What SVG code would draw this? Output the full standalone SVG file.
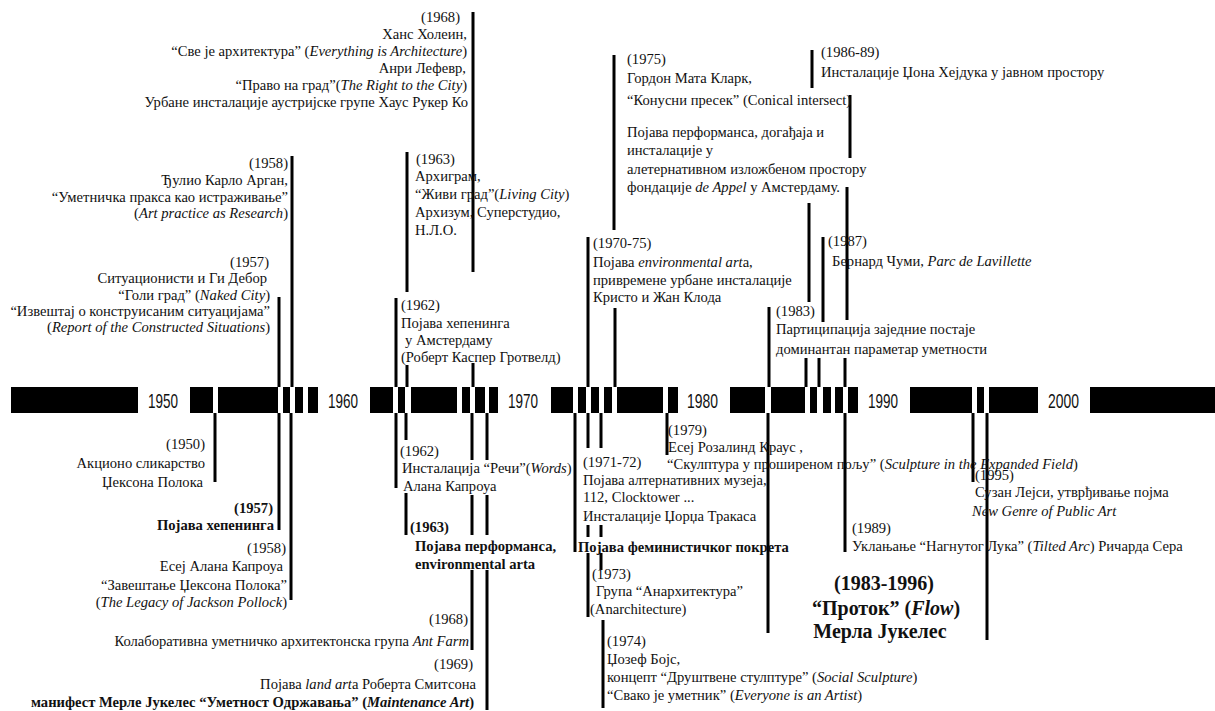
<svg xmlns="http://www.w3.org/2000/svg" width="1215" height="711" viewBox="0 0 1215 711">
<style>
.t{font-family:"Liberation Serif","Times New Roman",serif;font-size:14.6px;fill:#111}
.r{text-anchor:end}
.b{font-weight:bold}
.i{font-style:italic}
.big{font-size:20px;font-weight:bold;text-anchor:middle}
.yr{font-family:"Liberation Sans",Arial,sans-serif;font-size:21px;fill:#111}
.ln{stroke:#000;stroke-width:3;fill:none}
.blk{fill:#000}
</style>
<rect width="1215" height="711" fill="#fff"/>
<g id="timeline">
<rect class="blk" x="11" y="387" width="127" height="26"/>
<rect class="blk" x="190" y="387" width="23" height="26"/>
<rect class="blk" x="218" y="387" width="60" height="26"/>
<rect class="blk" x="283" y="387" width="7" height="26"/>
<rect class="blk" x="295" y="387" width="8" height="26"/>
<rect class="blk" x="308" y="387" width="10" height="26"/>
<rect class="blk" x="370" y="387" width="23" height="26"/>
<rect class="blk" x="398" y="387" width="7" height="26"/>
<rect class="blk" x="411" y="387" width="46" height="26"/>
<rect class="blk" x="462" y="387" width="8" height="26"/>
<rect class="blk" x="475" y="387" width="10" height="26"/>
<rect class="blk" x="489" y="387" width="9" height="26"/>
<rect class="blk" x="551" y="387" width="22" height="26"/>
<rect class="blk" x="578" y="387" width="8" height="26"/>
<rect class="blk" x="591" y="387" width="8" height="26"/>
<rect class="blk" x="604" y="387" width="8" height="26"/>
<rect class="blk" x="617" y="387" width="46" height="26"/>
<rect class="blk" x="668" y="387" width="10" height="26"/>
<rect class="blk" x="730" y="387" width="35" height="26"/>
<rect class="blk" x="771" y="387" width="34" height="26"/>
<rect class="blk" x="810" y="387" width="7" height="26"/>
<rect class="blk" x="823" y="387" width="8" height="26"/>
<rect class="blk" x="835" y="387" width="8" height="26"/>
<rect class="blk" x="848" y="387" width="10" height="26"/>
<rect class="blk" x="910" y="387" width="62" height="26"/>
<rect class="blk" x="977" y="387" width="7" height="26"/>
<rect class="blk" x="989" y="387" width="49" height="26"/>
<rect class="blk" x="1090" y="387" width="125" height="26"/>
<text class="yr" x="148" y="408" textLength="30" lengthAdjust="spacingAndGlyphs">1950</text>
<text class="yr" x="328" y="408" textLength="30" lengthAdjust="spacingAndGlyphs">1960</text>
<text class="yr" x="508" y="408" textLength="30" lengthAdjust="spacingAndGlyphs">1970</text>
<text class="yr" x="687" y="408" textLength="31" lengthAdjust="spacingAndGlyphs">1980</text>
<text class="yr" x="868" y="408" textLength="30" lengthAdjust="spacingAndGlyphs">1990</text>
<text class="yr" x="1048" y="408" textLength="31" lengthAdjust="spacingAndGlyphs">2000</text>
</g>
<g id="connectors">
<path class="ln" d="M292 156V387 M279 297V387 M407 152V292 M407 365V387 M396 298V387 M473 12V272 M473 363V387 M588 237V387 M614 55V230 M615 308V387 M769 307V387 M806 358V387 M809 203V302 M812 50V88 M819 358V387 M823 237V322 M845 358V387 M847 187V320 M850 95V158"/>
<path class="ln" d="M215 413V482 M279 413V530 M291 413V600 M396 413V488 M406 413V440 M406 493V535 M472 413V460 M472 495V535 M472 570V650 M487 413V460 M487 495V535 M487 570V710 M575 413V552 M588 413V448 M588 525V537 M588 553V617 M601 413V448 M601 525V537 M601 553V570 M603 620V708 M667 413V455 M768 413V633 M845 413V552 M973 413V482 M987 413V640"/>
</g>
<g id="n1968top">
<text class="t r" x="460" y="22">(1968)</text>
<text class="t r" x="467" y="39">Ханс Холеин,</text>
<text class="t r" x="467" y="56">“Све је архитектура” (<tspan class="i">Everything is Architecture</tspan>)</text>
<text class="t r" x="466" y="73">Анри Лефевр,</text>
<text class="t r" x="467" y="90">“Право на град”(<tspan class="i">The Right to the City</tspan>)</text>
<text class="t r" x="468" y="107">Урбане инсталације аустријске групе Хаус Рукер Ко</text>
</g>
<g id="n1958top">
<text class="t r" x="288" y="168">(1958)</text>
<text class="t r" x="288" y="185">Ђулио Карло Арган,</text>
<text class="t r" x="288" y="202">“Уметничка пракса као истраживање”</text>
<text class="t r" x="288" y="218">(<tspan class="i">Art practice as Research</tspan>)</text>
</g>
<g id="n1957top">
<text class="t r" x="269" y="267">(1957)</text>
<text class="t r" x="267" y="283">Ситуационисти и Ги Дебор</text>
<text class="t r" x="270" y="300">“Голи град” (<tspan class="i">Naked City</tspan>)</text>
<text class="t r" x="270" y="316">“Извештај о конструисаним ситуацијама”</text>
<text class="t r" x="270" y="332">(<tspan class="i">Report of the Constructed Situations</tspan>)</text>
</g>
<g id="n1963top">
<text class="t" x="416" y="164">(1963)</text>
<text class="t" x="415" y="181">Архиграм,</text>
<text class="t" x="415" y="199">“Живи град”(<tspan class="i">Living City</tspan>)</text>
<text class="t" x="415" y="217">Архизум, Суперстудио,</text>
<text class="t" x="415" y="235">Н.Л.О.</text>
</g>
<g id="n1962top">
<text class="t" x="401" y="310">(1962)</text>
<text class="t" x="401" y="328">Појава хепенинга</text>
<text class="t" x="405" y="345">у Амстердаму</text>
<text class="t" x="401" y="362">(Роберт Каспер Гротвелд)</text>
</g>
<g id="n1975">
<text class="t" x="627" y="64">(1975)</text>
<text class="t" x="627" y="83">Гордон Мата Кларк,</text>
<text class="t" x="627" y="105">“Конусни пресек” (Conical intersect)</text>
<text class="t" x="627" y="137">Појава перформанса, догађаја и</text>
<text class="t" x="627" y="155">инсталације у</text>
<text class="t" x="627" y="174">алетернативном изложбеном простору</text>
<text class="t" x="627" y="192">фондације <tspan class="i">de Appel</tspan> у Амстердаму.</text>
</g>
<g id="n1986">
<text class="t" x="821" y="57">(1986-89)</text>
<text class="t" x="821" y="77">Инсталације Џона Хејдука у јавном простору</text>
</g>
<g id="n1970">
<text class="t" x="593" y="248">(1970-75)</text>
<text class="t" x="593" y="267">Појава <tspan class="i">environmental art</tspan>а,</text>
<text class="t" x="593" y="285">привремене урбане инсталације</text>
<text class="t" x="593" y="302">Кристо и Жан Клода</text>
</g>
<g id="n1987">
<text class="t" x="828" y="246">(1987)</text>
<text class="t" x="832" y="266">Бернард Чуми, <tspan class="i">Parc de Lavillette</tspan></text>
</g>
<g id="n1983">
<text class="t" x="776" y="316">(1983)</text>
<text class="t" x="776" y="334">Партиципација заједние постаје</text>
<text class="t" x="776" y="354">доминантан параметар уметности</text>
</g>
<g id="n1950">
<text class="t r" x="205" y="449">(1950)</text>
<text class="t r" x="205" y="468">Акционо сликарство</text>
<text class="t r" x="203" y="487">Џексона Полока</text>
</g>
<g id="n1957bot">
<text class="t r b" x="273" y="513">(1957)</text>
<text class="t r b" x="274" y="530">Појава хепенинга</text>
</g>
<g id="n1958bot">
<text class="t r" x="286" y="553">(1958)</text>
<text class="t r" x="283" y="571">Есеј Алана Капроуа</text>
<text class="t r" x="287" y="590">“Завештање Џексона Полока”</text>
<text class="t r" x="287" y="607">(<tspan class="i">The Legacy of Jackson Pollock</tspan>)</text>
</g>
<g id="n1962bot">
<text class="t" x="400" y="456">(1962)</text>
<text class="t" x="402" y="473">Инсталација “Речи”(<tspan class="i">Words</tspan>)</text>
<text class="t" x="403" y="491">Алана Капроуа</text>
</g>
<g id="n1963bot">
<text class="t b" x="410" y="532">(1963)</text>
<text class="t b" x="415" y="551">Појава перформанса,</text>
<text class="t b" x="415" y="569">environmental arta</text>
</g>
<g id="n1968bot">
<text class="t r" x="468" y="624">(1968)</text>
<text class="t r" x="469" y="646">Колаборативна уметничко архитектонска група <tspan class="i">Ant Farm</tspan></text>
</g>
<g id="n1969">
<text class="t r" x="473" y="669">(1969)</text>
<text class="t r" x="476" y="689">Појава <tspan class="i">land art</tspan>а Роберта Смитсона</text>
<text class="t r b" x="474" y="707">манифест Мерле Јукелес “Уметност Одржавања” (<tspan class="i">Maintenance Art</tspan>)</text>
</g>
<g id="n1971">
<text class="t" x="583" y="467">(1971-72)</text>
<text class="t" x="583" y="485">Појава алтернативних музеја,</text>
<text class="t" x="583" y="502">112, Clocktower ...</text>
<text class="t" x="583" y="521">Инсталације Џорџа Тракаса</text>
</g>
<g id="nfem">
<text class="t b" x="578" y="552">Појава феминистичког покрета</text>
</g>
<g id="n1973">
<text class="t" x="592" y="579">(1973)</text>
<text class="t" x="596" y="596">Група “Анархитектура”</text>
<text class="t" x="590" y="614">(Anarchitecture)</text>
</g>
<g id="n1974">
<text class="t" x="607" y="646">(1974)</text>
<text class="t" x="607" y="664">Џозеф Бојс,</text>
<text class="t" x="607" y="682">концепт “Друштвене стулптуре” (<tspan class="i">Social Sculpture</tspan>)</text>
<text class="t" x="607" y="700">“Свако је уметник” (<tspan class="i">Everyone is an Artist</tspan>)</text>
</g>
<g id="n1979">
<text class="t" x="668" y="435">(1979)</text>
<text class="t" x="668" y="452">Есеј Розалинд Краус ,</text>
<text class="t" x="667" y="469">“Скулптура у проширеном пољу” (<tspan class="i">Sculpture in the Expanded Field</tspan>)</text>
</g>
<g id="n1995">
<text class="t" x="975" y="480">(1995)</text>
<text class="t" x="975" y="497">Сузан Лејси, утврђивање појма</text>
<text class="t i" x="972" y="516">New Genre of Public Art</text>
</g>
<g id="n1989">
<text class="t" x="852" y="533">(1989)</text>
<text class="t" x="852" y="551">Уклањање “Нагнутог Лука” (<tspan class="i">Tilted Arc</tspan>) Ричарда Сера</text>
</g>
<g id="nflow">
<text class="t big" x="884" y="590">(1983-1996)</text>
<text class="t big" x="886" y="615">“Проток” (<tspan class="i">Flow</tspan>)</text>
<text class="t big" x="880" y="638">Мерла Јукелес</text>
</g>
</svg>
